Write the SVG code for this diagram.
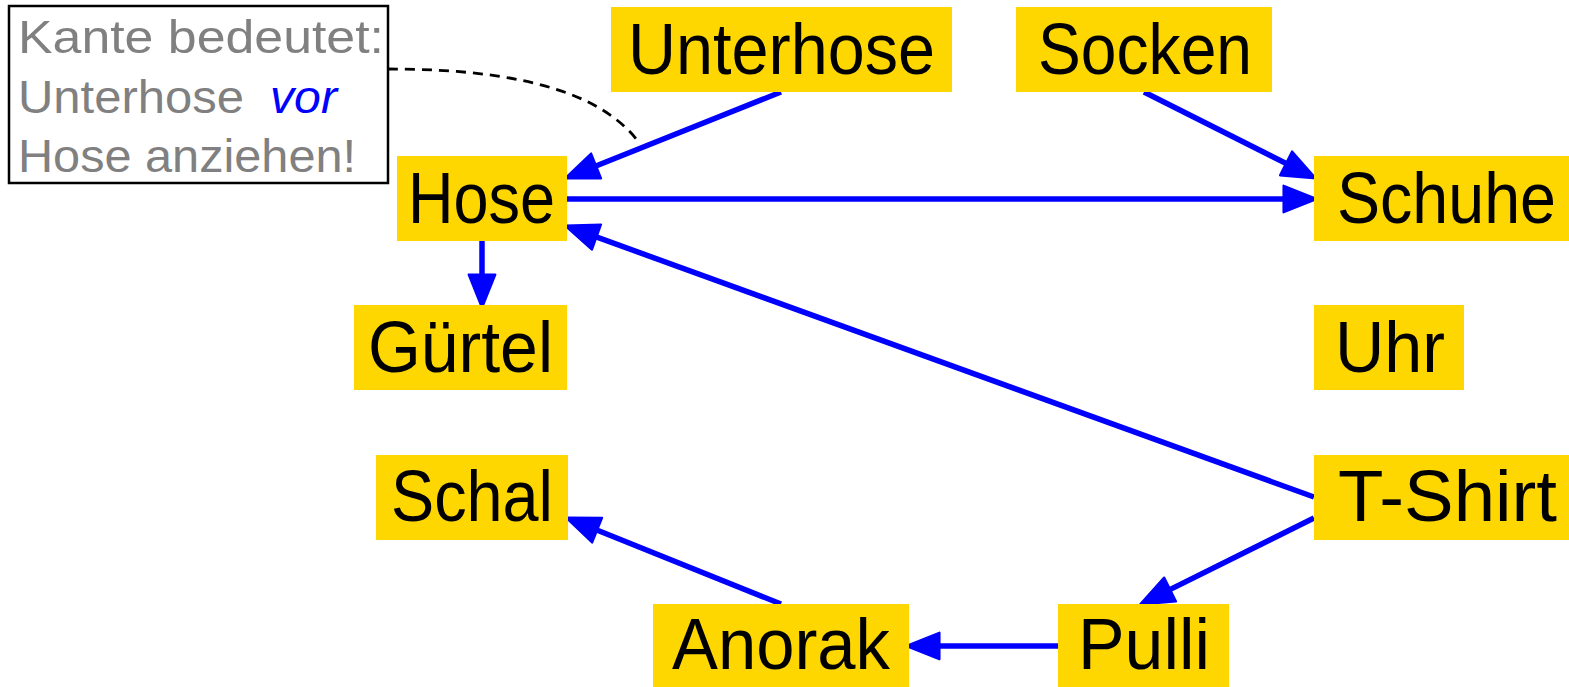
<svg xmlns="http://www.w3.org/2000/svg" width="1569" height="687" viewBox="0 0 1569 687">
<style>
.box{fill:#FFD700;}
.lbl{font-family:"Liberation Sans",Arial,sans-serif;font-size:72px;fill:#000;text-anchor:start;}
.note{font-family:"Liberation Sans",Arial,sans-serif;font-size:47px;fill:#808080;}
.edge{fill:none;stroke:#0000FF;stroke-width:5.5;marker-end:url(#arr);}
</style>
<defs>
<marker id="arr" markerUnits="userSpaceOnUse" markerWidth="40" markerHeight="40" viewBox="-2 -15 36 30" refX="22" refY="0" orient="auto">
<path d="M0,-12 L30,0 L0,12 Z" fill="#0000FF" stroke="#0000FF" stroke-width="2" stroke-linejoin="round"/>
</marker>
</defs>
<rect width="1569" height="687" fill="#fff"/>
<g id="note">
<rect x="9" y="6" width="379" height="177" fill="#fff" stroke="#000" stroke-width="2.5"/>
<text class="note" x="18" y="53" textLength="366" lengthAdjust="spacingAndGlyphs">Kante bedeutet:</text>
<text class="note" x="18" y="113" textLength="226" lengthAdjust="spacingAndGlyphs">Unterhose</text>
<text class="note" x="270" y="113" style="fill:#0000FF;font-style:italic" textLength="67" lengthAdjust="spacingAndGlyphs">vor</text>
<text class="note" x="18" y="172" textLength="338" lengthAdjust="spacingAndGlyphs">Hose anziehen!</text>
</g>
<g id="connectors">
<path d="M388,69 C480,69 590,80 637,140" fill="none" stroke="#000" stroke-width="2.8" stroke-dasharray="10,7"/>
<path class="edge" d="M781,92 L573.4,175"/>
<path class="edge" d="M1144,92 L1307.9,174.4"/>
<path class="edge" d="M567,199 L1308,199"/>
<path class="edge" d="M482,241 L482,299"/>
<path class="edge" d="M1314,497 L573.5,228.7"/>
<path class="edge" d="M1314,518 L1148.2,600.4"/>
<path class="edge" d="M1058,646 L915,646"/>
<path class="edge" d="M781,604 L574.4,521"/>
</g>
<g id="n-unterhose"><rect class="box" x="611" y="7" width="341" height="85"/><text class="lbl" x="628" y="74" textLength="307" lengthAdjust="spacingAndGlyphs">Unterhose</text></g>
<g id="n-socken"><rect class="box" x="1016" y="7" width="256" height="85"/><text class="lbl" x="1038" y="74" textLength="214" lengthAdjust="spacingAndGlyphs">Socken</text></g>
<g id="n-hose"><rect class="box" x="397" y="156" width="170" height="85"/><text class="lbl" x="408" y="223" textLength="147" lengthAdjust="spacingAndGlyphs">Hose</text></g>
<g id="n-schuhe"><rect class="box" x="1314" y="156" width="255" height="85"/><text class="lbl" x="1337" y="223" textLength="219" lengthAdjust="spacingAndGlyphs">Schuhe</text></g>
<g id="n-guertel"><rect class="box" x="354" y="305" width="213" height="85"/><text class="lbl" x="368" y="372" textLength="185" lengthAdjust="spacingAndGlyphs">Gürtel</text></g>
<g id="n-uhr"><rect class="box" x="1314" y="305" width="150" height="85"/><text class="lbl" x="1335" y="372" textLength="110" lengthAdjust="spacingAndGlyphs">Uhr</text></g>
<g id="n-schal"><rect class="box" x="376" y="455" width="192" height="85"/><text class="lbl" x="391" y="521" textLength="162" lengthAdjust="spacingAndGlyphs">Schal</text></g>
<g id="n-tshirt"><rect class="box" x="1314" y="455" width="255" height="85"/><text class="lbl" x="1338" y="521" textLength="219" lengthAdjust="spacingAndGlyphs">T-Shirt</text></g>
<g id="n-anorak"><rect class="box" x="653" y="604" width="256" height="83"/><text class="lbl" x="672" y="669" textLength="218" lengthAdjust="spacingAndGlyphs">Anorak</text></g>
<g id="n-pulli"><rect class="box" x="1058" y="604" width="171" height="83"/><text class="lbl" x="1078" y="669" textLength="132" lengthAdjust="spacingAndGlyphs">Pulli</text></g>
</svg>
